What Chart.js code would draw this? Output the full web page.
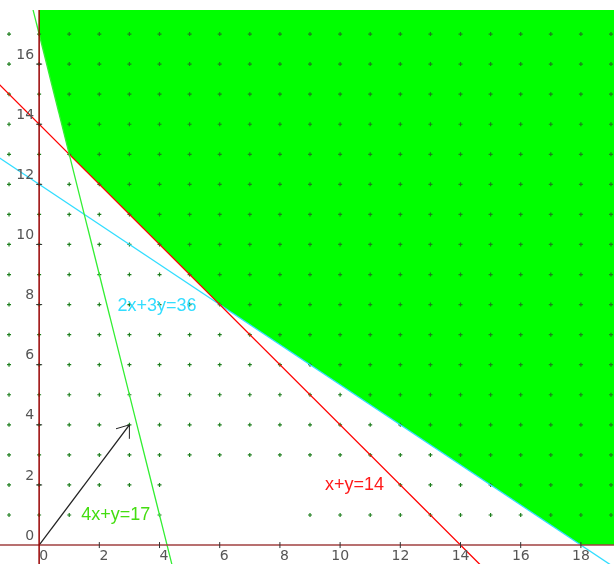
<!DOCTYPE html>
<html>
<head>
<meta charset="utf-8">
<script src="https://cdn.jsdelivr.net/npm/chart.js@4.4.0/dist/chart.umd.min.js"></script>
<style>
  html, body { margin: 0; padding: 0; background: #fff; }
  #wrap { width: 614px; height: 564px; }
</style>
</head>
<body>
<div id="wrap"><canvas id="lp"></canvas></div>
<script>
// region boundary (x+y>=14, 2x+3y>=36, 4x+y>=17, x>=0, y>=0)
const regionX = [0, 1, 6, 18, 20];
const regionY = [17, 13, 8, 0, 0];

// constraint lines, two points each
const line1X = [-1, 5];   // 4x+y=17
const line1Y = [21, -3];
const line2X = [-2, 16];  // x+y=14
const line2Y = [16, -2];
const line3X = [-3, 21];  // 2x+3y=36
const line3Y = [14, -2];

// objective direction arrow
const arrowX = [0, 3];
const arrowY = [0, 4];

// tick labels
const xTicks = [0, 2, 4, 6, 8, 10, 12, 14, 16, 18];
const yTicks = [0, 2, 4, 6, 8, 10, 12, 14, 16];

// integer grid dots
const dotCols = [-1, 0, 1, 2, 3, 4, 5, 6, 7, 8, 9, 10, 11, 12, 13, 14, 15, 16, 17, 18, 19];
const dotRows = [1, 2, 3, 4, 5, 6, 7, 8, 9, 10, 11, 12, 13, 14, 15, 16, 17];
const missingDots = ["2,1", "3,1", "5,1", "6,1", "7,1", "8,1",
  "5,2", "6,2", "7,2", "8,2", "9,2", "10,2", "11,2"];

// line labels
const labelText = ["2x+3y=36", "x+y=14", "4x+y=17"];
const labelX = [2.6, 9.5, 1.4];
const labelY = [7.95, 2.0, 1.0];
const labelColor = ["#33ddff", "#ff1a1a", "#44dd11"];

const toPoints = (xs, ys) => xs.map((x, i) => ({ x: x, y: ys[i] }));

const dots = [];
dotRows.forEach(r => dotCols.forEach(c => {
  if (missingDots.indexOf(c + "," + r) < 0) dots.push({ x: c, y: r });
}));

const overlay = {
  id: "overlay",
  afterDatasetsDraw(chart) {
    const ctx = chart.ctx;
    const xs = chart.scales.x, ys = chart.scales.y;
    const area = chart.chartArea;
    const x0 = xs.getPixelForValue(0), y0 = ys.getPixelForValue(0);
    ctx.save();

    // axes
    ctx.lineWidth = 1.5;
    ctx.strokeStyle = "#a04040";
    ctx.beginPath();
    ctx.moveTo(area.left, y0);
    ctx.lineTo(area.right, y0);
    ctx.stroke();
    ctx.strokeStyle = "#990000";
    ctx.beginPath();
    ctx.moveTo(x0, area.top);
    ctx.lineTo(x0, area.bottom);
    ctx.stroke();

    // ticks + labels
    ctx.lineWidth = 1;
    ctx.strokeStyle = "#333";
    ctx.fillStyle = "#555";
    ctx.font = "14px 'DejaVu Sans'";
    ctx.textAlign = "right";
    ctx.textBaseline = "middle";
    xTicks.forEach(v => {
      const px = xs.getPixelForValue(v);
      if (v !== 0) {
        ctx.beginPath();
        ctx.moveTo(px, y0 - 3);
        ctx.lineTo(px, y0 + 3);
        ctx.stroke();
      }
      ctx.fillText(String(v), px + 9, y0 + 11);
    });
    yTicks.forEach(v => {
      const py = ys.getPixelForValue(v);
      if (v !== 0) {
        ctx.beginPath();
        ctx.moveTo(x0 - 3, py);
        ctx.lineTo(x0 + 3, py);
        ctx.stroke();
      }
      ctx.fillText(String(v), x0 - 5, py - 9);
    });

    // arrow head
    const bx = xs.getPixelForValue(arrowX[0]), by = ys.getPixelForValue(arrowY[0]);
    const tx = xs.getPixelForValue(arrowX[1]), ty = ys.getPixelForValue(arrowY[1]);
    const back = Math.atan2(by - ty, bx - tx);
    ctx.strokeStyle = "#222";
    ctx.beginPath();
    [-0.64, 0.64].forEach(d => {
      ctx.moveTo(tx, ty);
      ctx.lineTo(tx + 14 * Math.cos(back + d), ty + 14 * Math.sin(back + d));
    });
    ctx.stroke();

    // line labels
    ctx.font = "18px 'Liberation Sans', Arial, sans-serif";
    ctx.textAlign = "left";
    ctx.textBaseline = "middle";
    labelText.forEach((t, i) => {
      ctx.fillStyle = labelColor[i];
      ctx.fillText(t, xs.getPixelForValue(labelX[i]), ys.getPixelForValue(labelY[i]));
    });
    ctx.restore();
  }
};

const lineSet = (data, color, order) => ({
  type: "line",
  data: data,
  borderColor: color,
  borderWidth: 1.3,
  pointRadius: 0,
  fill: false,
  order: order
});

new Chart(document.getElementById("lp").getContext("2d"), {
  type: "scatter",
  data: {
    datasets: [
      {
        type: "line",
        data: toPoints(regionX, regionY),
        borderWidth: 0,
        borderColor: "rgba(0,0,0,0)",
        backgroundColor: "#00ff00",
        pointRadius: 0,
        fill: "end",
        order: 10
      },
      {
        data: dots,
        pointStyle: "cross",
        pointRadius: 2,
        borderWidth: 1.2,
        borderColor: "#1f7f1f",
        backgroundColor: "#1f7f1f",
        order: 9
      },
      lineSet(toPoints(line3X, line3Y), "#33ddff", 4),
      lineSet(toPoints(line2X, line2Y), "#ff0000", 3),
      lineSet(toPoints(line1X, line1Y), "#33ee33", 2),
      lineSet(toPoints(arrowX, arrowY), "#222222", 1)
    ]
  },
  options: {
    responsive: true,
    maintainAspectRatio: false,
    animation: false,
    layout: { autoPadding: false, padding: { top: 10, left: 0, right: 0, bottom: 0 } },
    plugins: { legend: { display: false }, tooltip: { enabled: false } },
    scales: {
      x: { type: "linear", min: -1.3, max: 19.1, display: false },
      y: { type: "linear", min: -0.63, max: 17.8, display: false }
    }
  },
  plugins: [overlay]
});
</script>
</body>
</html>
